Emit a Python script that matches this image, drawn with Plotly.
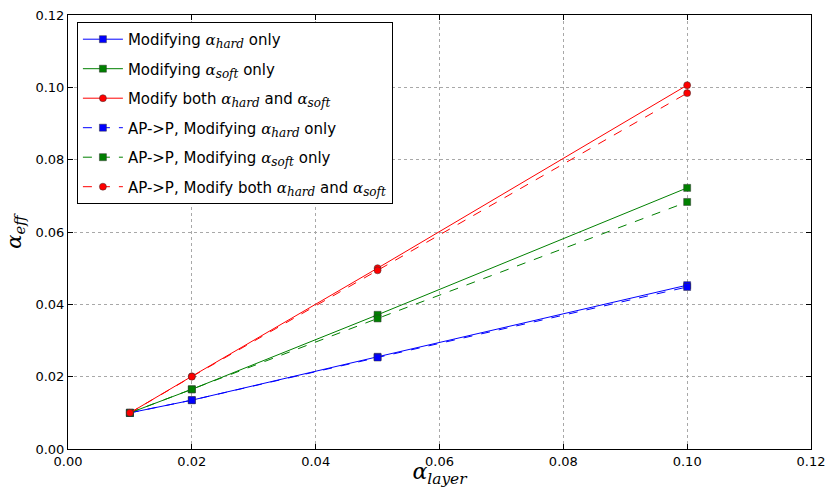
import plotly.graph_objects as go

alpha_layer = [0.01, 0.02, 0.05, 0.10]

hard_only = [0.0100, 0.0135, 0.0255, 0.0453]
soft_only = [0.0100, 0.0165, 0.0371, 0.0722]
both = [0.0100, 0.0201, 0.0500, 0.1006]
ap_hard_only = [0.0100, 0.0135, 0.0253, 0.0448]
ap_soft_only = [0.0100, 0.0165, 0.0361, 0.0683]
ap_both = [0.0100, 0.0200, 0.0494, 0.0984]

x_ticks = [0.00, 0.02, 0.04, 0.06, 0.08, 0.10, 0.12]
y_ticks = [0.00, 0.02, 0.04, 0.06, 0.08, 0.10, 0.12]


def a(sub):
    return ('<span style="font-family:DejaVu Serif"><i>α</i></span>'
            '<sub><span style="font-family:DejaVu Serif;font-size:12px"><i>' + sub + '</i></span></sub>')


series = [
    (hard_only, "Modifying " + a("hard") + " only", "#0000ff", "square", "solid"),
    (soft_only, "Modifying " + a("soft") + " only", "#008000", "square", "solid"),
    (both, "Modify both " + a("hard") + " and " + a("soft"), "#ff0000", "circle", "solid"),
    (ap_hard_only, "AP-&gt;P, Modifying " + a("hard") + " only", "#0000ff", "square", "dash"),
    (ap_soft_only, "AP-&gt;P, Modifying " + a("soft") + " only", "#008000", "square", "dash"),
    (ap_both, "AP-&gt;P, Modify both " + a("hard") + " and " + a("soft"), "#ff0000", "circle", "dash"),
]

fig = go.Figure()
for i, (vals, name, color, symbol, dash) in enumerate(series):
    fig.add_trace(go.Scatter(
        x=alpha_layer, y=vals, name=name, mode="lines+markers",
        legendgroup=f"g{i}",
        line=dict(color=color, width=1, dash=dash),
        marker=dict(symbol=symbol, size=7, color=color,
                    line=dict(color="#333333", width=0.5)),
    ))

axis_common = dict(
    showline=True, linecolor="black", linewidth=1, mirror="ticks",
    ticks="inside", ticklen=5, tickcolor="black",
    showgrid=True, gridcolor="#a8a8a8", griddash="dot", gridwidth=1,
    zeroline=False, tickformat=".2f", automargin=False,
    ticklabeloverflow="allow",
    tickfont=dict(family="DejaVu Sans", size=13, color="black"),
)

fig.update_xaxes(range=[-1e-7, 0.1200001], tickvals=x_ticks, **axis_common,
                 title=dict(text='<i>α</i><sub><i>layer</i></sub>',
                            font=dict(family="DejaVu Serif", size=22, color="black"),
                            standoff=2))
fig.update_yaxes(range=[-1e-7, 0.1200001], tickvals=y_ticks, **axis_common,
                 title=dict(text='<i>α</i><sub><i>eff</i></sub>',
                            font=dict(family="DejaVu Serif", size=21, color="black"),
                            standoff=8))

fig.update_layout(
    width=825, height=488,
    margin=dict(l=68, r=14, t=15, b=39),
    paper_bgcolor="white", plot_bgcolor="white",
    font=dict(family="DejaVu Sans", size=15, color="black"),
    legend=dict(x=0.012, y=0.984, xanchor="left", yanchor="top",
                bgcolor="white", bordercolor="black", borderwidth=1,
                font=dict(family="DejaVu Sans", size=15, color="black"),
                tracegroupgap=7, itemwidth=40),
    showlegend=True,
)

fig.write_html("out.html")
